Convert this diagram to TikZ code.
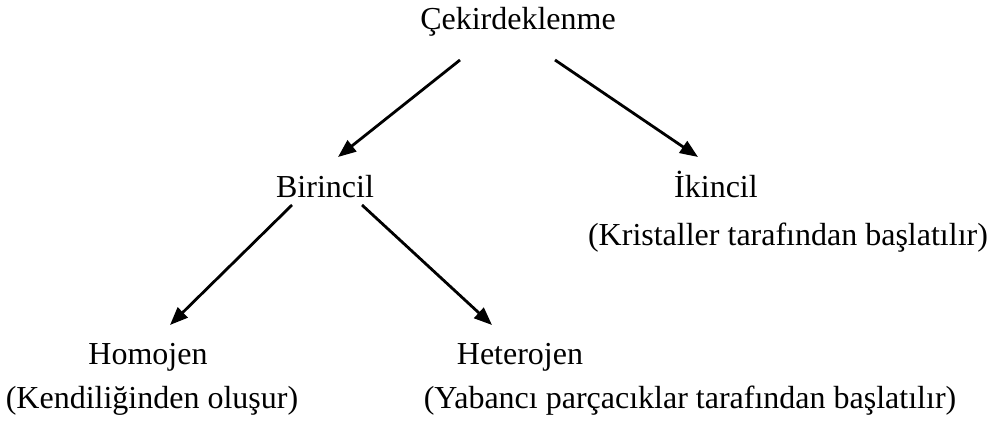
\documentclass[tikz,border=0pt]{standalone}
\usepackage{fontspec}
\setmainfont{Liberation Serif}
\usetikzlibrary{arrows.meta,calc}

\begin{document}
\begin{tikzpicture}[
  x=0.5pt,y=-0.5pt,
  font=\fontsize{16}{19}\selectfont,
  lbl/.style={inner sep=0pt,anchor=base},
  arr/.style={-{Triangle[length=9pt,width=7pt]},line width=1.4pt}]
\useasboundingbox (0,0) rectangle (992,432);
\node[lbl] (cek) at (518,30) {Çekirdeklenme};
\node[lbl] (bir) at (325,198) {Birincil};
\node[lbl] (iki) at (716,198) {İkincil};
\node[lbl] (kri) at (788,246) {(Kristaller tarafından başlatılır)};
\node[lbl] (hom) at (148,365) {Homojen};
\node[lbl] (ken) at (152,409) {(Kendiliğinden oluşur)};
\node[lbl] (het) at (520,365) {Heterojen};
\node[lbl] (yab) at (690,409) {(Yabancı parçacıklar tarafından başlatılır)};
\draw[arr] ($(cek.base)+(-58,30)$) -- ($(bir.base)+(13,-41)$);
\draw[arr] ($(cek.base)+(37,30)$) -- ($(iki.base)+(-18,-41)$);
\draw[arr] ($(bir.base)+(-33,7)$) -- ($(hom.base)+(22,-40)$);
\draw[arr] ($(bir.base)+(37,7)$) -- ($(het.base)+(-28,-40)$);
\end{tikzpicture}
\end{document}
